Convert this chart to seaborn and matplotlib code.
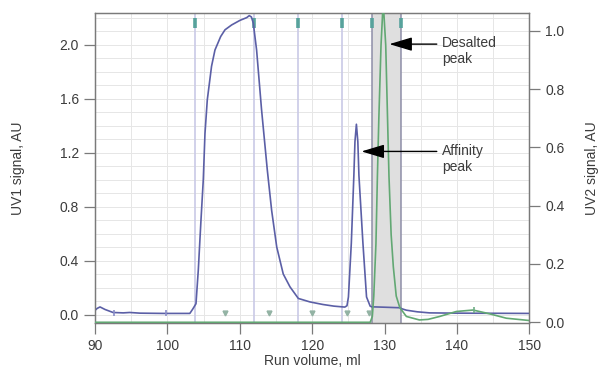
import matplotlib
matplotlib.use("Agg")
import matplotlib.pyplot as plt
from matplotlib.ticker import MultipleLocator, FormatStrFormatter
import pandas as pd
import seaborn as sns

sns.set_theme(style="white")
plt.rcParams['font.family'] = ['Liberation Sans', 'DejaVu Sans']

# UV1 trace (left axis), run volume in ml
uv1_volume = [90.0, 90.3, 90.7, 91.4, 92.5, 93.9, 94.8, 96.2, 99.4, 103.1, 103.5,
              103.95, 104.27, 104.64, 104.96, 105.19, 105.51, 106.1, 106.57, 107.36,
              107.96, 108.88, 110.03, 110.95, 111.31, 111.6, 111.86, 112.32, 113.0,
              113.8, 114.4, 115.1, 116.0, 116.93, 118.08, 119.7, 121.5, 123.0, 124.5,
              124.8, 125.0, 125.4, 125.75, 125.9, 126.1, 126.3, 126.45, 127.0, 127.5,
              128.0, 128.2, 130.0, 132.1, 132.4, 133.0, 134.5, 136.2, 140.0, 145.0, 150.0]
uv1_signal = [0.03, 0.045, 0.056, 0.037, 0.015, 0.012, 0.015, 0.01, 0.008, 0.008, 0.04,
              0.08, 0.33, 0.7, 1.0, 1.34, 1.59, 1.84, 1.96, 2.06,
              2.11, 2.146, 2.18, 2.2, 2.215, 2.205, 2.16, 1.96, 1.52,
              1.07, 0.77, 0.5, 0.3, 0.205, 0.119, 0.093, 0.074, 0.062, 0.055,
              0.065, 0.13, 0.53, 1.03, 1.28, 1.41, 1.28, 1.03, 0.53, 0.13,
              0.062, 0.057, 0.054, 0.05, 0.042, 0.032, 0.02, 0.012, 0.01, 0.009, 0.008]

# UV2 trace (right axis)
uv2_volume = [90.0, 128.0, 128.3, 128.5, 128.8, 129.0, 129.2, 129.5, 129.8, 130.15,
              130.4, 130.6, 130.9, 131.2, 131.6, 132.1, 133.0, 134.8, 136.0, 137.6,
              139.9, 142.2, 144.5, 146.8, 150.0]
uv2_signal = [0.0, 0.0, 0.02, 0.09, 0.27, 0.5, 0.7, 0.95, 1.1, 0.95,
              0.7, 0.5, 0.3, 0.19, 0.09, 0.05, 0.02, 0.008, 0.01, 0.02,
              0.037, 0.042, 0.029, 0.014, 0.006]

fraction_lines = [103.8, 112.0, 118.0, 124.1]
pool_start, pool_end = 128.2, 132.2
low_marks = [107.9, 114.0, 120.0, 124.8, 127.8]
uv1_marks = [92.6, 99.8]
uv1_mark_vals = [0.012, 0.008]
uv2_marks = [142.3]
uv2_mark_vals = [0.042]

uv1 = pd.DataFrame({"volume": uv1_volume, "signal": uv1_signal})
uv2 = pd.DataFrame({"volume": uv2_volume, "signal": uv2_signal})

blue = "#5b5fa6"
green = "#62a873"
text_col = "#3c3c3c"
spine_col = "#7a7a7a"

fig, ax1 = plt.subplots(figsize=(6.01, 3.83), dpi=100)
fig.subplots_adjust(left=0.158, right=0.881, bottom=0.157, top=0.967)
ax2 = ax1.twinx()

# grid
ax1.set_xlim(90, 150)
ax1.set_ylim(-0.062, 2.237)
ax1.xaxis.set_major_locator(MultipleLocator(10))
ax1.xaxis.set_minor_locator(MultipleLocator(5))
ax1.yaxis.set_major_locator(MultipleLocator(0.4))
ax1.yaxis.set_minor_locator(MultipleLocator(0.1))
ax1.grid(which="both", color="#e6e6e6", lw=0.7)
ax1.set_axisbelow(True)

# pooled region and fraction lines
ax1.axvspan(pool_start, pool_end, color="#dfdfdf", zorder=0.6, lw=0)
for v in fraction_lines:
    ax1.axvline(v, color="#cacae6", lw=1.2, zorder=0.8)
for v in [pool_start, pool_end]:
    ax1.axvline(v, color="#8e8ea8", lw=1.1, zorder=0.8)

# top markers
tr = ax1.get_xaxis_transform()
top_marks = fraction_lines + [pool_start, pool_end]
ax1.plot(top_marks, [0.967] * len(top_marks), ls="none", marker="|", ms=7, mew=2.6,
         color="#57a29c", transform=tr, zorder=3)
ax1.plot(low_marks, [0.031] * len(low_marks), ls="none", marker="v", ms=3.5,
         color="#93b3a4", transform=tr, zorder=3)

sns.lineplot(data=uv1, x="volume", y="signal", ax=ax1, color=blue, lw=1.2, zorder=4)
ax1.plot(uv1_marks, uv1_mark_vals, ls="none", marker="|", ms=5, mew=1.2, color="#8a8ec8", zorder=5)

ax2.set_ylim(-0.002, 1.062)
sns.lineplot(data=uv2, x="volume", y="signal", ax=ax2, color=green, lw=1.2, zorder=4)
ax2.plot(uv2_marks, uv2_mark_vals, ls="none", marker="|", ms=5, mew=1.2, color="#6fae86", zorder=5)

# ticks
ax1.set_xticks(range(90, 151, 10))
ax1.set_yticks([0.0, 0.4, 0.8, 1.2, 1.6, 2.0])
ax1.yaxis.set_major_formatter(FormatStrFormatter("%.1f"))
ax2.set_yticks([0.0, 0.2, 0.4, 0.6, 0.8, 1.0])
ax2.yaxis.set_major_formatter(FormatStrFormatter("%.1f"))
ax1.tick_params(axis="both", which="major", direction="out", length=8, width=0.9,
                color=spine_col, labelsize=10, labelcolor=text_col, pad=3.5,
                left=True, bottom=True)
ax1.tick_params(which="minor", length=0)
ax2.tick_params(axis="y", direction="out", length=8, width=0.9, color=spine_col,
                labelsize=10, labelcolor=text_col, pad=3.5, right=True)

for ax in (ax1, ax2):
    for s in ax.spines.values():
        s.set_color(spine_col)
        s.set_linewidth(0.9)

ax1.set_xlabel("Run volume, ml", fontsize=10, color=text_col)
ax1.set_ylabel("UV1 signal, AU", fontsize=10, color=text_col)
ax2.set_ylabel("UV2 signal, AU", fontsize=10, color=text_col, rotation=90)
ax1.xaxis.set_label_coords(0.5, -0.1)
ax1.yaxis.set_label_coords(-0.162, 0.5)
ax2.yaxis.set_label_coords(1.128, 0.5)
ax2.yaxis.label.set_va("top")

# annotations
arrow = dict(arrowstyle="-|>,head_length=1.4,head_width=0.42", color="black",
             lw=1.0, mutation_scale=10, shrinkA=0, shrinkB=0)
ax2.annotate("", xy=(130.65, 0.954), xytext=(137.2, 0.954), arrowprops=arrow, zorder=6)
ax2.text(137.95, 0.983, "Desalted\npeak", va="top", ha="left", fontsize=10,
         color=text_col, linespacing=1.25)
ax2.annotate("", xy=(126.8, 0.586), xytext=(137.2, 0.586), arrowprops=arrow, zorder=6)
ax2.text(137.95, 0.613, "Affinity\npeak", va="top", ha="left", fontsize=10,
         color=text_col, linespacing=1.25)

fig.savefig("out.png", dpi=100)
